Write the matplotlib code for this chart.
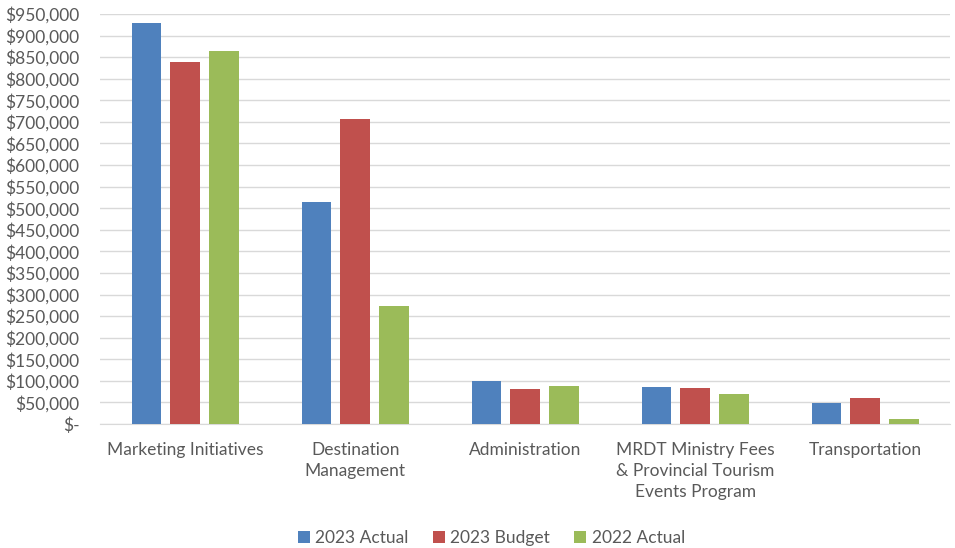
import numpy as np
import matplotlib
matplotlib.use('Agg')
import matplotlib.pyplot as plt
from matplotlib.ticker import FuncFormatter, MultipleLocator

# --- Data ---
CATEGORIES = [
    'Marketing Initiatives',
    'Destination\nManagement',
    'Administration',
    'MRDT Ministry Fees\n& Provincial Tourism\nEvents Program',
    'Transportation',
]
ACTUAL_2023 = [928000, 514000, 100000, 86000, 49000]
BUDGET_2023 = [839000, 707000, 82000, 84000, 60000]
ACTUAL_2022 = [864000, 274000, 87000, 70000, 12000]
SERIES_NAMES = ['2023 Actual', '2023 Budget', '2022 Actual']
COLORS = ['#4F81BD', '#C0504D', '#9BBB59']

TEXT_COLOR = '#595959'
GRID_COLOR = '#D9D9D9'

plt.rcParams['font.family'] = ['Lato', 'DejaVu Sans']


def dollar_fmt(v, _pos):
    if v == 0:
        return '$-'
    return f'${v:,.0f}'


fig = plt.figure(figsize=(9.55, 5.48), dpi=100)
ax = fig.add_axes([0.105, 0.2263, 0.89, 0.7482])

x = np.arange(len(CATEGORIES))
offset = 0.229
width = 0.174
for i, (vals, name, col) in enumerate(zip([ACTUAL_2023, BUDGET_2023, ACTUAL_2022], SERIES_NAMES, COLORS)):
    ax.bar(x + (i - 1) * offset, vals, width=width, color=col, label=name, zorder=3)

ax.set_xlim(-0.5, len(CATEGORIES) - 0.5)
ax.set_ylim(0, 950000)
ax.yaxis.set_major_locator(MultipleLocator(50000))
ax.yaxis.set_major_formatter(FuncFormatter(dollar_fmt))
ax.grid(axis='y', color=GRID_COLOR, linewidth=1, zorder=0)

for s in ['top', 'right', 'left']:
    ax.spines[s].set_visible(False)
ax.spines['bottom'].set_color(GRID_COLOR)

ax.set_xticks(x)
ax.set_xticklabels(CATEGORIES, fontsize=12.5, color=TEXT_COLOR, linespacing=1.4, va='top')
ax.tick_params(axis='x', length=0, pad=13)
ax.tick_params(axis='y', length=0, pad=15, labelsize=12.5, labelcolor=TEXT_COLOR)

ax.legend(loc='lower center', bbox_to_anchor=(0.46, -0.335), ncol=3, frameon=False,
          fontsize=12.5, labelcolor=TEXT_COLOR, handlelength=0.7, handleheight=0.7,
          handletextpad=0.3, columnspacing=1.4)

fig.savefig('out.png', dpi=100)
